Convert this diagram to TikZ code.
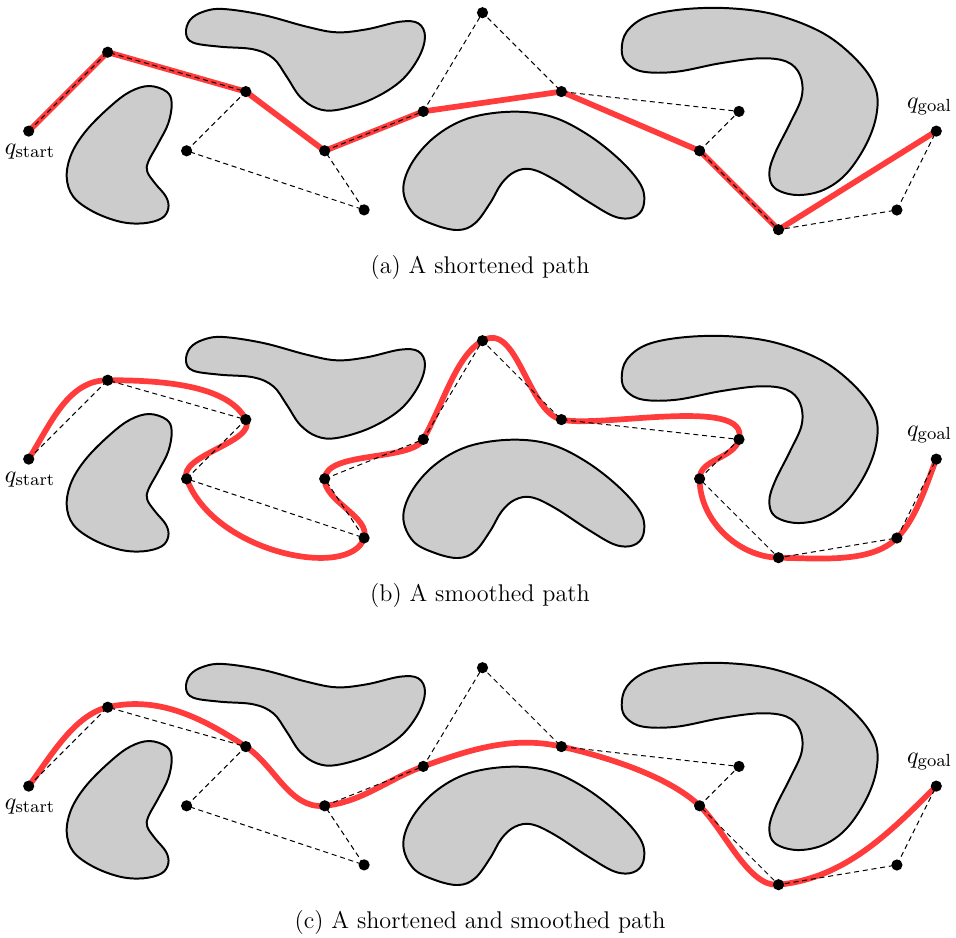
\documentclass[tikz,border=0pt]{standalone}
\definecolor{pathred}{RGB}{255,59,59}
\definecolor{obsgray}{RGB}{204,204,204}
\tikzset{
  obstacle/.style={draw=black, line width=0.9pt, fill=obsgray},
  roadmap/.style={draw=black, line width=0.45pt, dash pattern=on 2.3pt off 1.7pt},
  solpath/.style={draw=pathred, line width=2.6pt, line cap=round, line join=round},
  waypoint/.style={fill=black},
  captiontext/.style={font=\fontsize{11}{13}\selectfont, anchor=base, inner sep=0pt},
  endlabel/.style={font=\fontsize{11}{13}\selectfont, anchor=base, inner sep=0pt}
}
\newcommand\defpts[1]{%
  \coordinate (#10) at (28.7,131.1);
  \coordinate (#11) at (107.7,52.2);
  \coordinate (#12) at (245.8,91.6);
  \coordinate (#13) at (186.6,150.8);
  \coordinate (#14) at (364.1,209.9);
  \coordinate (#15) at (324.7,150.8);
  \coordinate (#16) at (423.3,111.4);
  \coordinate (#17) at (482.5,12.7);
  \coordinate (#18) at (561.4,91.6);
  \coordinate (#19) at (739.0,111.4);
  \coordinate (#110) at (699.6,150.8);
  \coordinate (#111) at (778.5,229.7);
  \coordinate (#112) at (896.9,210.0);
  \coordinate (#113) at (936.3,131.1);
}
\newcommand\obstacles{%
  \draw[obstacle] plot[smooth cycle, tension=0.6] coordinates {
    (149.3,86) (166.7,91.7) (171.7,103.3) (168.3,123.3) (158.3,143.3) (148.3,161.7)
    (147.3,171.7) (155,183.3) (166,196.7) (168.3,208.3) (161.7,218.3) (143.3,223.3)
    (120,221.7) (93.3,211.7) (73.3,196.7) (66.7,176.7) (71.7,153.3) (86.7,130)
    (110,106.7) (130,91.7)};
  \draw[obstacle] plot[smooth cycle, tension=0.6] coordinates {
    (186,33.3) (190,20) (203.3,11.7) (223.3,9) (263.3,15) (306.7,26.7) (336.7,32.3)
    (366.7,29.3) (400,21.7) (418.3,23.3) (425,36.7) (418.3,58.3) (400,81.7) (370,100)
    (336.7,110) (316.7,108.3) (300,96.7) (286.7,76.7) (273.3,58.3) (253.3,49.3)
    (220,46.7) (193.3,42.7)};
  \draw[obstacle] plot[smooth cycle, tension=0.6] coordinates {
    (403.3,190) (411.7,163.3) (435,136.7) (468.3,118.3) (511.7,111.7) (551.7,116.7)
    (588.3,135) (621.7,161.7) (641.7,186.7) (643.3,206.7) (633.3,217.3) (615,216.7)
    (588.3,201.7) (555,180) (531.7,169.3) (515,171.7) (501.7,183.3) (490,203.3)
    (475,223.3) (458.3,230) (435,225) (413.3,213.3)};
  \draw[obstacle] plot[smooth cycle, tension=0.6] coordinates {
    (621.7,50) (626.7,31.7) (646.7,16.7) (683.3,9.3) (730,8.3) (776.7,15) (823.3,33.3)
    (856.7,60) (875,86.7) (876.7,113.3) (866.7,143.3) (846.7,173.3) (823.3,190)
    (796.7,195) (775,188.3) (769.3,173.3) (775,153.3) (790,123.3) (801.7,96.7)
    (800,75) (786.7,61.7) (760,58.3) (720,63.3) (676.7,71.7) (643.3,71.7) (626.7,63.3)};
}
\newcommand\roadmap[1]{%
  \draw[roadmap] (#10) -- (#11) -- (#12) -- (#13) -- (#14) -- (#15) -- (#16) -- (#17)
    -- (#18) -- (#19) -- (#110) -- (#111) -- (#112) -- (#113);
  \foreach \i in {0,...,13} \fill[waypoint] (#1\i) circle[radius=2.55pt];
  \node[endlabel] (#1start) at (30,154) {$q_{\mathrm{start}}$};
  \node[endlabel] (#1goal) at (929.5,108) {$q_{\mathrm{goal}}$};
}
\begin{document}
\begin{tikzpicture}[x=0.016cm, y=-0.016cm]
\useasboundingbox (0,0) rectangle (956,937);
% (a) shortened
\begin{scope}
  \obstacles
  \defpts{a}
  \draw[solpath] (a0) -- (a1) -- (a2) -- (a5) -- (a6) -- (a8) -- (a10) -- (a11) -- (a13);
  \roadmap{a}
  \node[captiontext] (capa) at (480,273.5) {(a) A shortened path};
\end{scope}
% (b) smoothed
\begin{scope}[shift={(0,328)}]
  \obstacles
  \defpts{b}
  \draw[solpath] (b0)
    .. controls +(22,-35) and +(-40,0) .. (b1)
    .. controls +(50,0) and +(-18,-35.6) .. (b2)
    .. controls +(11.3,22.3) and +(-8.8,-23.5) .. (b3)
    .. controls +(28,75) and +(-13,42) .. (b4)
    .. controls +(6.6,-20.9) and +(-1.1,22) .. (b5)
    .. controls +(1.4,-28) and +(-12,22) .. (b6)
    .. controls +(21.6,-39.6) and +(-26.1,15) .. (b7)
    .. controls +(34.8,-20) and +(-34,-7.7) .. (b8)
    .. controls +(38.8,8.8) and +(11.3,-43.7) .. (b9)
    .. controls +(-5,19.4) and +(0,-20) .. (b10)
    .. controls +(0,42) and +(-40,-0.8) .. (b11)
    .. controls +(45,0.9) and +(-24.9,24.9) .. (b12)
    .. controls +(19.9,-19.9) and +(-9.3,23.3) .. (b13);
  \roadmap{b}
  \node[captiontext] (capb) at (480,273.5) {(b) A smoothed path};
\end{scope}
% (c) shortened and smoothed
\begin{scope}[shift={(0,655)}]
  \obstacles
  \defpts{c}
  \draw[solpath] (c0)
    .. controls +(21,-28) and +(-34,7.9) .. (c1)
    .. controls +(50.6,-11.7) and +(-43.2,-28.6) .. (c2)
    .. controls +(29.5,19.5) and +(-35.1,3.5) .. (c5)
    .. controls +(37.6,-3.8) and +(-35.7,12.9) .. (c6)
    .. controls +(47,-17) and +(-48.5,-11) .. (c8)
    .. controls +(43.7,9.9) and +(-31.3,-30) .. (c10)
    .. controls +(25,24) and +(-30,3) .. (c11)
    .. controls +(66.7,-6.7) and +(-47,47) .. (c13);
  \roadmap{c}
  \node[captiontext] (capc) at (480,273.5) {(c) A shortened and smoothed path};
\end{scope}
\end{tikzpicture}
\end{document}
